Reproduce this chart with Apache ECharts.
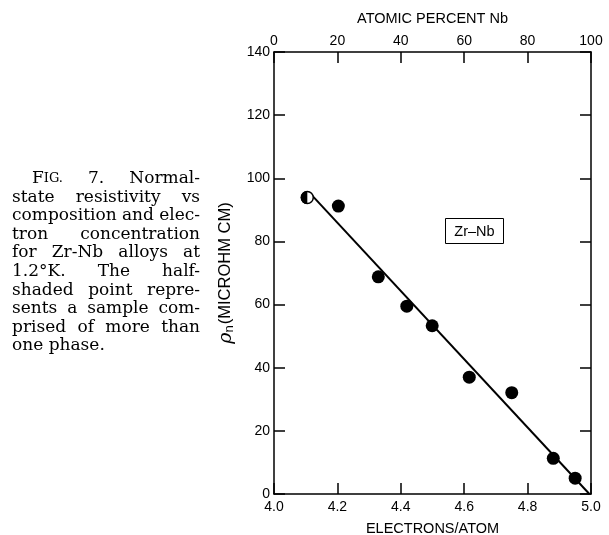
<!DOCTYPE html>
<html>
<head>
<meta charset="utf-8">
<script src="https://cdn.jsdelivr.net/npm/echarts@6/dist/echarts.min.js"></script>
<style>
  html, body { margin: 0; padding: 0; background: #fff; }
  #chart { width: 609px; height: 535px; }
</style>
</head>
<body>
<div id="chart"></div>
<script>
// Zr-Nb alloys: normal-state resistivity at 1.2 K vs electron concentration
const singlePhaseEA  = [4.203, 4.329, 4.419, 4.499, 4.616, 4.750, 4.881, 4.950];
const singlePhaseRho = [91.2, 68.8, 59.5, 53.3, 37.0, 32.1, 11.3, 5.0];
// sample containing more than one phase (drawn half-shaded)
const mixedPhaseEA  = [4.105];
const mixedPhaseRho = [93.9];
// straight line drawn through the data
const fitLineEA  = [4.114, 4.995];
const fitLineRho = [95.2, 0];

// tick labels
const eaTickLabels  = ['4.0', '4.2', '4.4', '4.6', '4.8', '5.0'];
const nbTickLabels  = ['0', '20', '40', '60', '80', '100'];
const rhoTickLabels = ['0', '20', '40', '60', '80', '100', '120', '140'];

// figure caption, one entry per printed line
const captionLines = [
  'FIG. 7. Normal-',
  'state resistivity vs',
  'composition and elec-',
  'tron concentration',
  'for Zr-Nb alloys at',
  '1.2°K. The half-',
  'shaded point repre-',
  'sents a sample com-',
  'prised of more than',
  'one phase.'
];

const INK = '#000';
const SANS = "'Liberation Sans', Arial, sans-serif";
const SERIF = "'DejaVu Serif', serif";

const chart = echarts.init(document.getElementById('chart'), null, { renderer: 'canvas' });

const tickLabelStyle = { color: INK, fontFamily: SANS, fontSize: 14, showMinLabel: true, showMaxLabel: true };
const lineStyle = { color: INK, width: 1.5 };

// ---- caption: justified lines built from measured word widths ----
const measureCtx = document.createElement('canvas').getContext('2d');
function textWidth(str, size) {
  measureCtx.font = size + 'px ' + SERIF;
  return measureCtx.measureText(str).width;
}
const CAP_SIZE = 17, SC_SIZE = 13;
const capLeft = 12, capRight = 200, capIndent = 32, capBase = 183, capLead = 18.6;

function wordItem(w) {
  if (w === 'FIG.') {
    // "Fig." set in small capitals
    return { text: '{f|F}{sc|IG.}', width: textWidth('F', CAP_SIZE) + textWidth('IG.', SC_SIZE), rich: true };
  }
  return { text: w, width: textWidth(w, CAP_SIZE), rich: false };
}

const captionGraphics = [];
captionLines.forEach((line, li) => {
  const words = line.split(' ').map(wordItem);
  const x0 = li === 0 ? capIndent : capLeft;
  const avail = capRight - x0;
  const total = words.reduce((s, w) => s + w.width, 0);
  const last = li === captionLines.length - 1;
  const gap = (!last && words.length > 1) ? (avail - total) / (words.length - 1) : textWidth(' ', CAP_SIZE);
  let x = x0;
  // verticalAlign 'bottom' puts the descender line at y; shift down by the descent
  const y = capBase + li * capLead + Math.round(CAP_SIZE * 0.24);
  words.forEach(w => {
    captionGraphics.push({
      type: 'text',
      x: x, y: y,
      silent: true,
      style: {
        text: w.text,
        fill: INK,
        font: CAP_SIZE + 'px ' + SERIF,
        verticalAlign: 'bottom',
        align: 'left',
        rich: w.rich ? {
          f: { fontSize: CAP_SIZE, fontFamily: SERIF, fill: INK },
          sc: { fontSize: SC_SIZE, fontFamily: SERIF, fill: INK }
        } : undefined
      }
    });
    x += w.width + gap;
  });
});

const option = {
  backgroundColor: '#fff',
  animation: false,
  grid: { left: 274, right: 18, top: 52, bottom: 41, containLabel: false, outerBoundsMode: 'none' },
  xAxis: [
    {
      type: 'value', position: 'bottom', min: 4.0, max: 5.0, interval: 0.2,
      name: 'ELECTRONS/ATOM', nameLocation: 'middle', nameGap: 27,
      nameTextStyle: { color: INK, fontFamily: SANS, fontSize: 14.5 },
      axisLine: { show: true, onZero: false, lineStyle: lineStyle },
      axisTick: { show: true, inside: true, length: 11, lineStyle: lineStyle },
      axisLabel: Object.assign({}, tickLabelStyle, {
        margin: 6,
        formatter: v => eaTickLabels[Math.round((v - 4.0) / 0.2)]
      }),
      splitLine: { show: false }
    },
    {
      type: 'value', position: 'top', min: 0, max: 100, interval: 20,
      name: 'ATOMIC PERCENT Nb', nameLocation: 'middle', nameGap: 26,
      nameTextStyle: { color: INK, fontFamily: SANS, fontSize: 14.5 },
      axisLine: { show: true, onZero: false, lineStyle: lineStyle },
      axisTick: { show: true, inside: true, length: 11, lineStyle: lineStyle },
      axisLabel: Object.assign({}, tickLabelStyle, {
        margin: 4,
        formatter: v => nbTickLabels[Math.round(v / 20)]
      }),
      splitLine: { show: false }
    }
  ],
  yAxis: [
    {
      type: 'value', position: 'left', min: 0, max: 140, interval: 20,
      name: '{rho|ρ}{sub|n}{t|(MICROHM CM)}', nameLocation: 'middle', nameGap: 34, nameRotate: 90,
      nameTextStyle: {
        color: INK, fontFamily: SANS, fontSize: 16.5,
        rich: {
          rho: { fontFamily: SERIF, fontStyle: 'italic', fontSize: 19, color: INK },
          sub: { fontFamily: SANS, fontSize: 13, color: INK, verticalAlign: 'bottom', padding: [7, 1, 0, 0] },
          t: { fontFamily: SANS, fontSize: 16.5, color: INK }
        }
      },
      axisLine: { show: true, onZero: false, lineStyle: lineStyle },
      axisTick: { show: true, inside: true, length: 11, lineStyle: lineStyle },
      axisLabel: Object.assign({}, tickLabelStyle, {
        margin: 4,
        formatter: v => rhoTickLabels[Math.round(v / 20)]
      }),
      splitLine: { show: false }
    },
    {
      type: 'value', position: 'right', min: 0, max: 140, interval: 20,
      axisLine: { show: true, onZero: false, lineStyle: lineStyle },
      axisTick: { show: true, inside: true, length: 11, lineStyle: lineStyle },
      axisLabel: { show: false },
      splitLine: { show: false }
    }
  ],
  series: [
    {
      type: 'line',
      xAxisIndex: 0, yAxisIndex: 0,
      data: fitLineEA.map((x, i) => [x, fitLineRho[i]]),
      showSymbol: false,
      lineStyle: { color: INK, width: 2 },
      silent: true,
      z: 3
    },
    {
      type: 'scatter',
      xAxisIndex: 0, yAxisIndex: 0,
      data: singlePhaseEA.map((x, i) => [x, singlePhaseRho[i]]),
      symbol: 'circle',
      symbolSize: 13,
      itemStyle: { color: INK, opacity: 1 },
      z: 4
    },
    {
      type: 'custom',
      xAxisIndex: 0, yAxisIndex: 0,
      data: mixedPhaseEA.map((x, i) => [x, mixedPhaseRho[i]]),
      z: 5,
      renderItem: (params, api) => {
        const p = api.coord([api.value(0), api.value(1)]);
        const r = 6;
        return {
          type: 'group',
          children: [
            { type: 'circle', shape: { cx: p[0], cy: p[1], r: r },
              style: { fill: '#fff', stroke: INK, lineWidth: 1.5 } },
            { type: 'sector', shape: { cx: p[0], cy: p[1], r0: 0, r: r + 0.5,
                startAngle: Math.PI / 2, endAngle: Math.PI * 3 / 2 },
              style: { fill: INK } }
          ]
        };
      }
    }
  ],
  graphic: [
    // alloy system label
    {
      type: 'group', left: 445, top: 218,
      children: [
        { type: 'rect', shape: { x: 0, y: 0, width: 58, height: 25 },
          style: { fill: '#fff', stroke: INK, lineWidth: 1 } },
        { type: 'text', x: 29, y: 13,
          style: { text: 'Zr–Nb', fill: INK, font: '14.5px ' + SANS, align: 'center', verticalAlign: 'middle' } }
      ]
    }
  ].concat(captionGraphics)
};

chart.setOption(option);
</script>
</body>
</html>
